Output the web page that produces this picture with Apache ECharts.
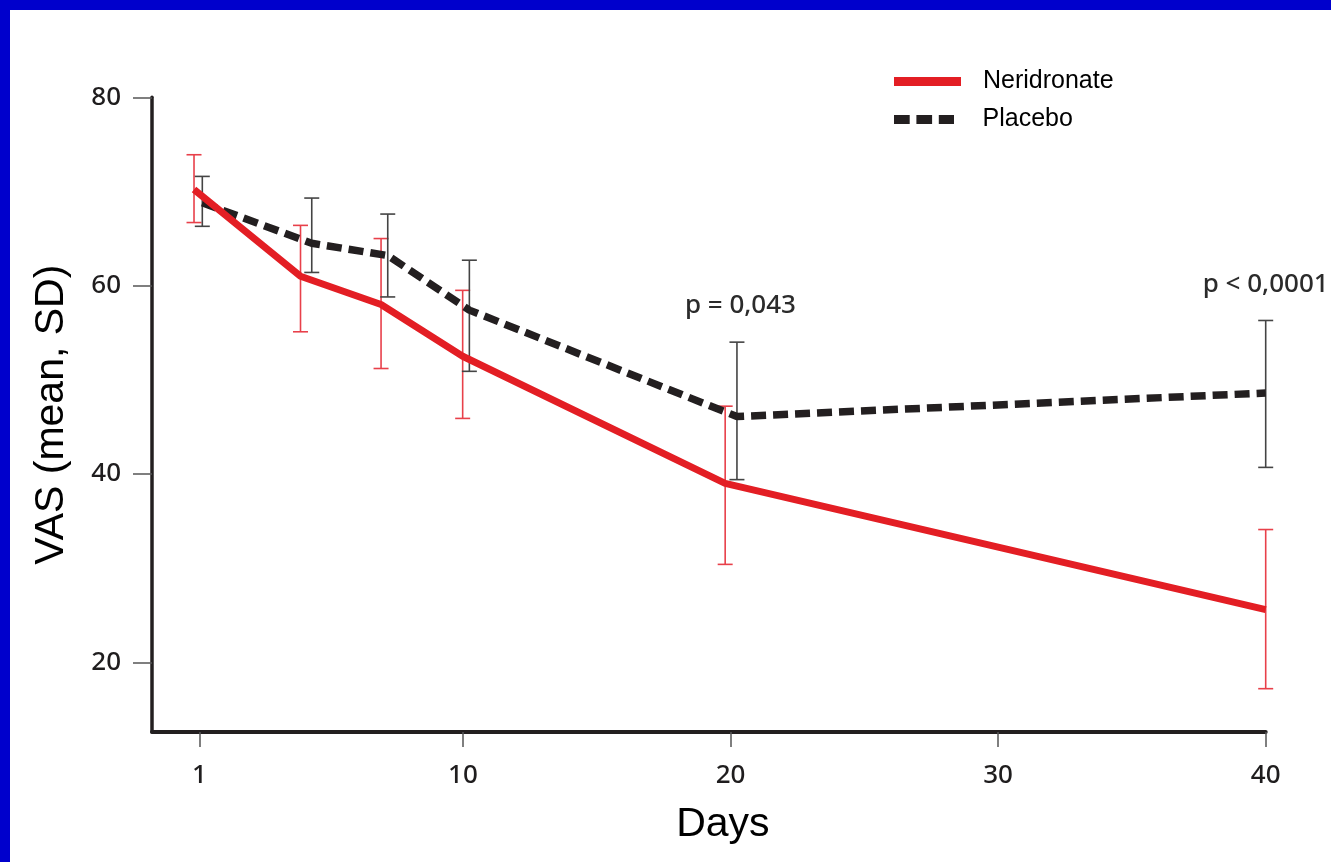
<!DOCTYPE html>
<html>
<head>
<meta charset="utf-8">
<script src="https://cdn.jsdelivr.net/npm/echarts@6/dist/echarts.min.js"></script>
<style>
  html, body { margin: 0; padding: 0; background: #0000cc; }
  #main { position: absolute; left: 10px; top: 10px; width: 1321px; height: 852px; background: #ffffff; }
</style>
</head>
<body>
<div id="main"></div>
<script>
// x positions of the points (day 1 sits at the axis origin), VAS mean and SD ends
var neriDay  = [-0.05, 3.93, 6.94, 9.99, 19.8, 40];
var neriMean = [70.2, 61.0, 58.0, 52.5, 39.0, 25.6];
var neriLow  = [66.7, 55.1, 51.2, 45.9, 30.4, 17.2];
var neriHigh = [73.9, 66.4, 65.0, 59.5, 47.2, 34.1];

var placDay  = [0.26, 4.35, 7.19, 10.24, 20.24, 40];
var placMean = [68.8, 64.5, 63.2, 57.4, 46.1, 48.6];
var placLow  = [66.3, 61.4, 58.8, 50.9, 39.4, 40.7];
var placHigh = [71.6, 69.3, 67.6, 62.7, 54.0, 56.3];

// x tick positions and their labels
var dayTicks  = [0.15, 10, 20, 30, 40];
var dayLabels = ['1', '10', '20', '30', '40'];
var vasTicks  = [20, 40, 60, 80];

// p-value annotations
var pText = ['p = 0,043', 'p < 0,0001'];
var pDay  = [20.37, 40];
var pVas  = [57.85, 60.1];

function zip(a, b, c) {
    var out = [];
    for (var i = 0; i < a.length; i++) {
        out.push(c ? [a[i], b[i], c[i]] : [a[i], b[i]]);
    }
    return out;
}

function errorBar(color) {
    return function (params, api) {
        var x = api.value(0);
        var lo = api.coord([x, api.value(1)]);
        var hi = api.coord([x, api.value(2)]);
        var w = 7.5;
        var st = { stroke: color, lineWidth: 1.6 };
        return {
            type: 'group',
            children: [
                { type: 'line', shape: { x1: lo[0], y1: lo[1], x2: hi[0], y2: hi[1] }, style: st },
                { type: 'line', shape: { x1: hi[0] - w, y1: hi[1], x2: hi[0] + w, y2: hi[1] }, style: st },
                { type: 'line', shape: { x1: lo[0] - w, y1: lo[1], x2: lo[0] + w, y2: lo[1] }, style: st }
            ]
        };
    };
}

// legend keys: solid bar and three dashes
var dashIcon = 'path://M0,0h15.7v9h-15.7z M22.4,0h15.7v9h-15.7z M44.8,0h15.2v9h-15.2z';

function legendRow(name, icon, top, gap) {
    return {
        left: 884,
        top: top,
        padding: 0,
        itemWidth: 67,
        itemHeight: 9,
        icon: icon,
        textStyle: { fontFamily: 'Liberation Sans', fontSize: 25, color: '#000', padding: [0, 0, 0, gap] },
        data: [name]
    };
}

var myChart = echarts.init(document.getElementById('main'));
var option = {
    animation: false,
    backgroundColor: '#ffffff',
    grid: { left: 142, right: 65.3, top: 87.3, bottom: 130 },
    legend: [
        legendRow('Neridronate', 'rect', 59, 17),
        legendRow('Placebo', dashIcon, 97, 20)
    ],
    xAxis: {
        type: 'value',
        min: -1.62,
        max: 40,
        name: 'Days',
        nameLocation: 'middle',
        nameGap: 72,
        nameTextStyle: { fontFamily: 'Liberation Sans', fontSize: 41, color: '#000', padding: [0, 0, 0, 28] },
        axisLine: { show: true, onZero: false, lineStyle: { color: '#231f20', width: 4 } },
        axisTick: { show: true, length: 15, customValues: dayTicks, lineStyle: { color: '#555', width: 1.5 } },
        axisLabel: {
            margin: 31,
            customValues: dayTicks,
            formatter: function (v) {
                var i = dayTicks.indexOf(v);
                return i >= 0 ? dayLabels[i] : '';
            },
            fontFamily: 'Noto Sans', fontSize: 26, fontWeight: 500, color: '#1f1d1e'
        },
        splitLine: { show: false }
    },
    yAxis: {
        type: 'value',
        min: 12.6,
        max: 80,
        name: 'VAS (mean, SD)',
        nameLocation: 'middle',
        nameGap: 80,
        nameTextStyle: { fontFamily: 'Liberation Sans', fontSize: 41, color: '#000' },
        axisLine: { show: true, onZero: false, lineStyle: { color: '#231f20', width: 3.5 } },
        axisTick: { show: true, length: 19, customValues: vasTicks, lineStyle: { color: '#555', width: 1.5 } },
        axisLabel: {
            margin: 31,
            customValues: vasTicks,
            fontFamily: 'Noto Sans', fontSize: 26, fontWeight: 500, color: '#1f1d1e'
        },
        splitLine: { show: false }
    },
    series: [
        {
            name: 'Neridronate SD',
            type: 'custom',
            z: 2,
            renderItem: errorBar('#e8404a'),
            encode: { x: 0, y: [1, 2] },
            data: zip(neriDay, neriLow, neriHigh)
        },
        {
            name: 'Placebo SD',
            type: 'custom',
            z: 2,
            renderItem: errorBar('#444444'),
            encode: { x: 0, y: [1, 2] },
            data: zip(placDay, placLow, placHigh)
        },
        {
            name: 'Placebo',
            type: 'line',
            z: 3,
            symbol: 'none',
            color: '#231f20',
            lineStyle: { color: '#231f20', width: 7.5, type: [15, 7], cap: 'butt' },
            data: zip(placDay, placMean)
        },
        {
            name: 'Neridronate',
            type: 'line',
            z: 4,
            symbol: 'none',
            color: '#e31e24',
            lineStyle: { color: '#e31e24', width: 7 },
            data: zip(neriDay, neriMean)
        },
        {
            name: 'p values',
            type: 'custom',
            z: 5,
            clip: false,
            renderItem: function (params, api) {
                var p = api.coord([api.value(0), api.value(1)]);
                return {
                    type: 'text',
                    x: p[0],
                    y: p[1],
                    style: {
                        text: pText[params.dataIndex],
                        fontFamily: 'Noto Sans',
                        fontSize: 26,
                        fontWeight: 500,
                        fill: '#2b2b2b',
                        align: 'center',
                        verticalAlign: 'middle'
                    }
                };
            },
            encode: { x: 0, y: 1 },
            data: zip(pDay, pVas)
        }
    ]
};
myChart.setOption(option);
</script>
</body>
</html>
